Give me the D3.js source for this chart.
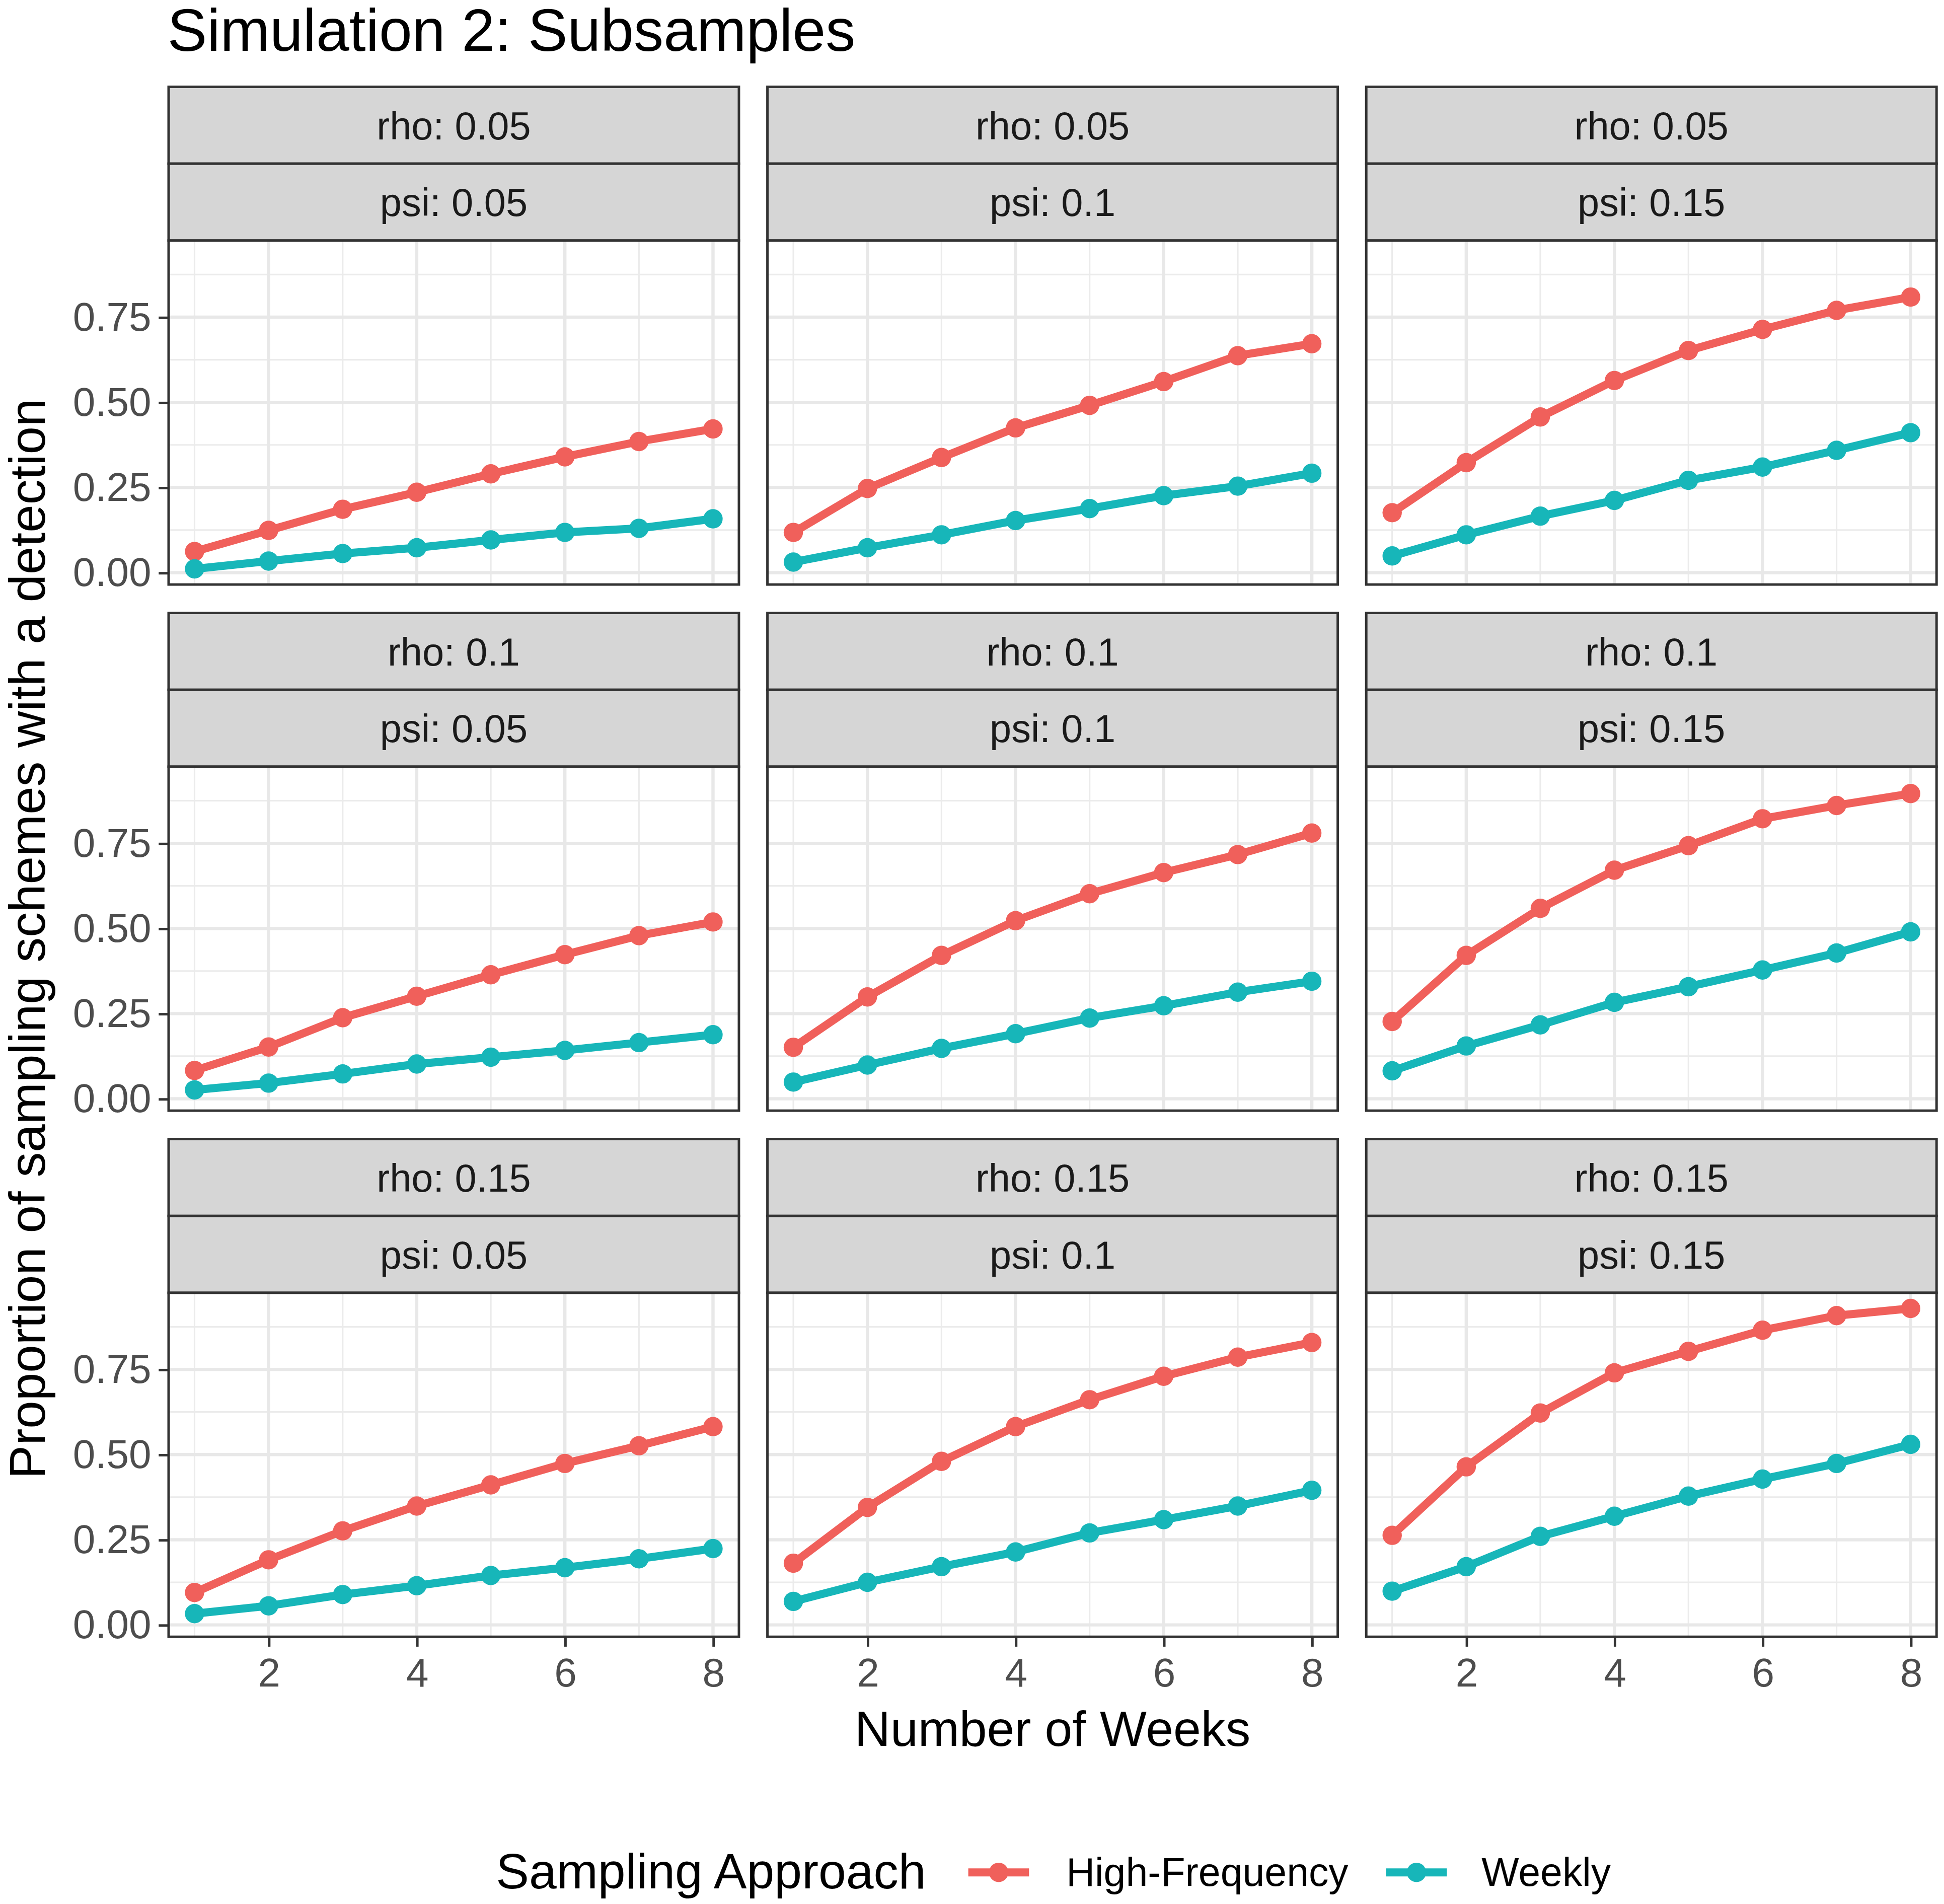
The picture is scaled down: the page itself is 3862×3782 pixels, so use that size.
<!DOCTYPE html>
<html>
<head>
<meta charset="utf-8">
<script src="https://cdn.jsdelivr.net/npm/d3@7"></script>
<style>
  body { margin: 0; background: #fff; }
  text { font-family: "Liberation Sans", Arial, Helvetica, sans-serif; }
</style>
</head>
<body>
<script>
// data
const weeks = [1, 2, 3, 4, 5, 6, 7, 8];
const rhoLevels = ['0.05', '0.1', '0.15'];
const psiLevels = ['0.05', '0.1', '0.15'];
const seriesNames = ['High-Frequency', 'Weekly'];
const xTicks = [2, 4, 6, 8];
const yTicks = [0, 0.25, 0.5, 0.75];

// one row per panel, rho outer, psi inner
const highFrequency = [
  [0.062, 0.124, 0.186, 0.236, 0.290, 0.340, 0.385, 0.422],
  [0.118, 0.247, 0.338, 0.425, 0.491, 0.561, 0.637, 0.672],
  [0.176, 0.323, 0.457, 0.564, 0.652, 0.714, 0.770, 0.809],
  [0.083, 0.152, 0.238, 0.301, 0.364, 0.423, 0.479, 0.519],
  [0.151, 0.299, 0.421, 0.523, 0.602, 0.664, 0.717, 0.780],
  [0.227, 0.421, 0.559, 0.671, 0.743, 0.822, 0.861, 0.896],
  [0.095, 0.191, 0.276, 0.349, 0.411, 0.474, 0.526, 0.582],
  [0.181, 0.345, 0.480, 0.582, 0.661, 0.730, 0.786, 0.829],
  [0.263, 0.464, 0.622, 0.740, 0.803, 0.865, 0.908, 0.929]
];
const weekly = [
  [0.011, 0.034, 0.056, 0.073, 0.096, 0.118, 0.130, 0.158],
  [0.031, 0.073, 0.111, 0.153, 0.188, 0.226, 0.254, 0.292],
  [0.049, 0.111, 0.166, 0.212, 0.271, 0.310, 0.359, 0.411],
  [0.026, 0.046, 0.073, 0.102, 0.122, 0.142, 0.165, 0.188],
  [0.049, 0.099, 0.148, 0.191, 0.237, 0.273, 0.313, 0.345],
  [0.082, 0.155, 0.217, 0.283, 0.329, 0.378, 0.428, 0.490],
  [0.033, 0.056, 0.089, 0.115, 0.145, 0.168, 0.194, 0.224],
  [0.069, 0.125, 0.171, 0.214, 0.270, 0.309, 0.349, 0.395],
  [0.099, 0.171, 0.260, 0.319, 0.378, 0.428, 0.474, 0.530]
];

const W = 1568, H = 1535.5;
const svg = d3.select('body').append('svg')
  .attr('width', 3862).attr('height', 3782)
  .attr('viewBox', `0 0 ${W} ${H}`);

const color = d3.scaleOrdinal().domain(seriesNames).range(['#F0605B', '#17B6B9']);

// facet grid
const colBand = d3.scaleBand().domain([0, 1, 2]).range([136, 1562]).paddingInner(0.0476);
const rowBand = d3.scaleBand().domain([0, 1, 2]).range([70, 1320]).paddingInner(0.054);
const stripH = 62;
const panelW = colBand.bandwidth();
const plotH = rowBand.bandwidth() - 2 * stripH;

// shared scales (ggplot-like 5% expansion)
const allVals = highFrequency.flat().concat(weekly.flat());
const [lo, hi] = d3.extent(allVals);
const pad = (hi - lo) * 0.05;
const x = d3.scaleLinear().domain([1 - 0.35, 8 + 0.35]).range([0, panelW]);
const y = d3.scaleLinear().domain([lo - pad, hi + pad]).range([plotH, 0]);

const xMinor = [1, 3, 5, 7];
const yMinor = [0.125, 0.375, 0.625, 0.875];

const line = d3.line().x((d, i) => x(weeks[i])).y(d => y(d));

rhoLevels.forEach((rho, r) => {
  psiLevels.forEach((psi, c) => {
    const k = r * 3 + c;
    const g = svg.append('g')
      .attr('transform', `translate(${colBand(c)},${rowBand(r)})`);

    // strips
    [`rho: ${rho}`, `psi: ${psi}`].forEach((lab, s) => {
      g.append('rect')
        .attr('x', 0).attr('y', s * stripH)
        .attr('width', panelW).attr('height', stripH)
        .attr('fill', '#D6D6D6').attr('stroke', '#333').attr('stroke-width', 2);
      g.append('text')
        .attr('x', panelW / 2).attr('y', s * stripH + stripH / 2)
        .attr('dy', '0.36em').attr('text-anchor', 'middle')
        .attr('font-size', 31.5).attr('fill', '#1A1A1A')
        .text(lab);
    });

    const p = g.append('g').attr('transform', `translate(0,${2 * stripH})`);
    p.append('rect').attr('width', panelW).attr('height', plotH).attr('fill', '#fff');

    // grid
    p.selectAll('.gxm').data(xMinor).join('line')
      .attr('x1', d => x(d)).attr('x2', d => x(d)).attr('y1', 0).attr('y2', plotH)
      .attr('stroke', '#EBEBEB').attr('stroke-width', 1.3);
    p.selectAll('.gym').data(yMinor).join('line')
      .attr('y1', d => y(d)).attr('y2', d => y(d)).attr('x1', 0).attr('x2', panelW)
      .attr('stroke', '#EBEBEB').attr('stroke-width', 1.3);
    p.selectAll('.gx').data(xTicks).join('line')
      .attr('x1', d => x(d)).attr('x2', d => x(d)).attr('y1', 0).attr('y2', plotH)
      .attr('stroke', '#E8E8E8').attr('stroke-width', 2.6);
    p.selectAll('.gy').data(yTicks).join('line')
      .attr('y1', d => y(d)).attr('y2', d => y(d)).attr('x1', 0).attr('x2', panelW)
      .attr('stroke', '#E8E8E8').attr('stroke-width', 2.6);

    // series
    [highFrequency[k], weekly[k]].forEach((vals, s) => {
      const col = color(seriesNames[s]);
      p.append('path').datum(vals)
        .attr('d', line).attr('fill', 'none')
        .attr('stroke', col).attr('stroke-width', 6.5)
        .attr('stroke-linejoin', 'round');
      p.selectAll(null).data(vals).join('circle')
        .attr('cx', (d, i) => x(weeks[i])).attr('cy', d => y(d))
        .attr('r', 7.8).attr('fill', col);
    });

    p.append('rect').attr('width', panelW).attr('height', plotH)
      .attr('fill', 'none').attr('stroke', '#333').attr('stroke-width', 2);

    // axes on outer panels only
    if (c === 0) {
      const ya = p.append('g').call(d3.axisLeft(y).tickValues(yTicks).tickFormat(d3.format('.2f')).tickSize(8).tickPadding(6));
      ya.select('.domain').remove();
      ya.selectAll('line').attr('stroke', '#333').attr('stroke-width', 2);
      ya.selectAll('text').attr('font-size', 32.5).attr('fill', '#4D4D4D')
        .attr('font-family', '"Liberation Sans", Arial, sans-serif');
    }
    if (r === 2) {
      const xa = p.append('g').attr('transform', `translate(0,${plotH})`)
        .call(d3.axisBottom(x).tickValues(xTicks).tickFormat(d3.format('d')).tickSize(8).tickPadding(9));
      xa.select('.domain').remove();
      xa.selectAll('line').attr('stroke', '#333').attr('stroke-width', 2);
      xa.selectAll('text').attr('font-size', 32.5).attr('fill', '#4D4D4D')
        .attr('font-family', '"Liberation Sans", Arial, sans-serif');
    }
  });
});

// titles
svg.append('text').attr('x', 135).attr('y', 41)
  .attr('font-size', 48).attr('fill', '#000').text('Simulation 2: Subsamples');

svg.append('text').attr('x', (136 + 1562) / 2).attr('y', 1408)
  .attr('text-anchor', 'middle').attr('font-size', 40).attr('fill', '#000')
  .text('Number of Weeks');

const plotTop = rowBand(0) + 2 * stripH;
svg.append('text')
  .attr('transform', `translate(36,${(plotTop + 1320) / 2}) rotate(-90)`)
  .attr('text-anchor', 'middle').attr('font-size', 40.5).attr('fill', '#000')
  .text('Proportion of sampling schemes with a detection');

// legend
const leg = svg.append('g').attr('transform', 'translate(0,1510)');
leg.append('text').attr('x', 400).attr('y', 13)
  .attr('font-size', 40).attr('fill', '#000').text('Sampling Approach');

const keyX = [781, 1118];
const labX = [860, 1195];
seriesNames.forEach((name, i) => {
  leg.append('line').attr('x1', keyX[i]).attr('x2', keyX[i] + 49)
    .attr('y1', 0).attr('y2', 0)
    .attr('stroke', color(name)).attr('stroke-width', 6.5);
  leg.append('circle').attr('cx', keyX[i] + 24.5).attr('cy', 0).attr('r', 7.8)
    .attr('fill', color(name));
  leg.append('text').attr('x', labX[i]).attr('y', 11)
    .attr('font-size', 32).attr('fill', '#000').text(name);
});
</script>
</body>
</html>
